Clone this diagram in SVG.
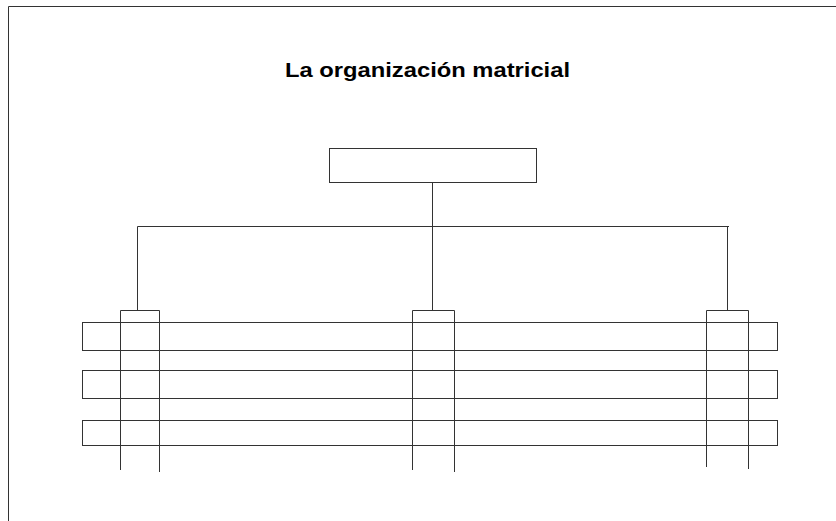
<svg xmlns="http://www.w3.org/2000/svg" width="836" height="521" viewBox="0 0 836 521">
<style>
.ln{stroke:#333;stroke-width:1;fill:none}
.bx{stroke:#333;stroke-width:1;fill:none}
.t{font-family:"Liberation Sans",Arial,sans-serif;font-weight:bold;font-size:19.5px;fill:#000}
</style>
<rect width="836" height="521" fill="#fff"/>
<g id="frame">
<path class="ln" d="M8.5,521 V6.5 H836" stroke-width="1.5"/>
</g>
<g id="title"><text class="t" x="285" y="76.5" textLength="285" lengthAdjust="spacingAndGlyphs">La organización matricial</text></g>
<g id="rows">
<rect id="row1" class="bx" x="82.5" y="322.5" width="695" height="28"/>
<rect id="row2" class="bx" x="82.5" y="370.5" width="695" height="28"/>
<rect id="row3" class="bx" x="82.5" y="420.5" width="695" height="25"/>
</g>
<g id="top"><rect class="bx" x="329.5" y="148.5" width="207" height="34"/></g>
<g id="connectors">
<path class="ln" d="M432.5,182.5 V226.5 M137.5,226.5 H729 M137.5,226.5 V310.5 M432.5,226.5 V310.5 M727.5,226.5 V310.5"/>
<path class="ln" d="M120.5,470 V310.5 H159.5 V472"/>
<path class="ln" d="M412.5,470 V310.5 H454.5 V472"/>
<path class="ln" d="M706.5,467 V310.5 H748.5 V469"/>
</g>
</svg>
